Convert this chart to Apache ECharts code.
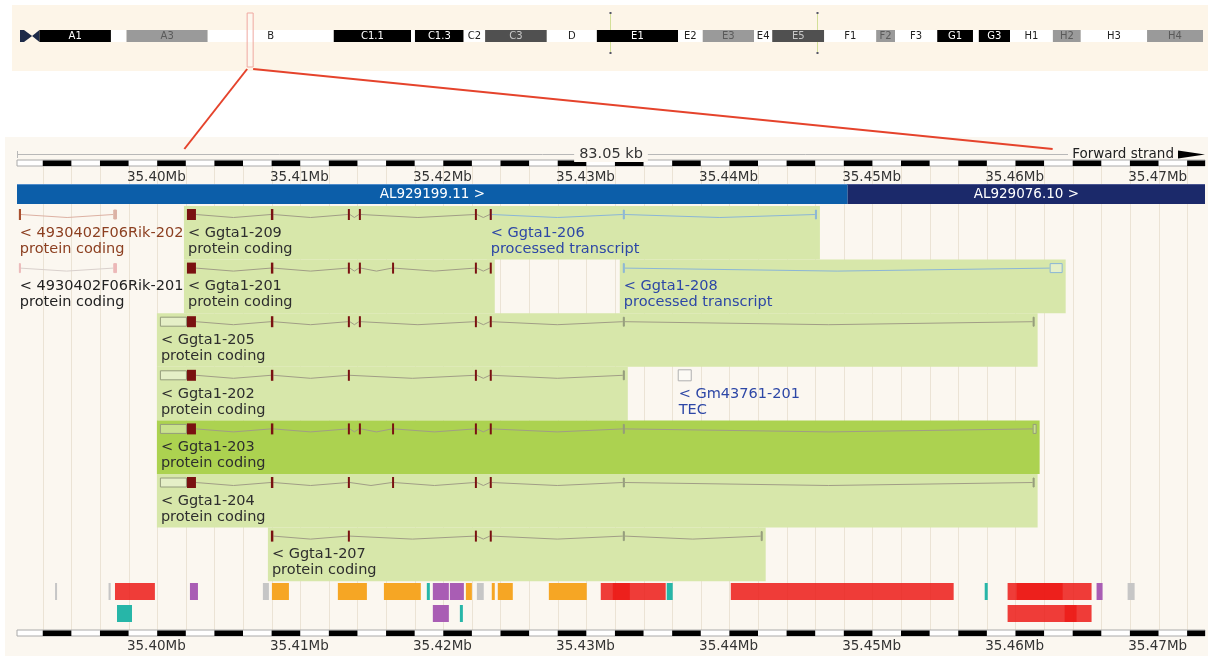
<!DOCTYPE html>
<html>
<head>
<meta charset="utf-8">
<title>Ggta1 region, chromosome 2</title>
<script src="https://cdn.jsdelivr.net/npm/echarts@6/dist/echarts.min.js"></script>
<style>
  html, body { margin: 0; padding: 0; background: #fff; }
  #chart { width: 1208px; height: 656px; }
</style>
</head>
<body>
<div id="chart"></div>
<script>
// ---- view window (kb on chr2) ----
const viewStart = 35388.2;
const viewEnd = 35471.25;
const tickValues = [35400, 35410, 35420, 35430, 35440, 35450, 35460, 35470];
const zoomTargets = [35399.9, 35460.6];

// ---- chromosome 2 ideogram (Mb) ----
const chrLength = 182.11;
const bandNames  = ['', 'A1', '', 'A3', 'B', 'C1.1', '', 'C1.3', 'C2', 'C3', 'D', 'E1', 'E2', 'E3', 'E4', 'E5', 'F1', 'F2', 'F3', 'G1', '', 'G3', 'H1', 'H2', 'H3', 'H4'];
const bandStarts = [0, 3.0, 14.0, 16.4, 28.9, 48.3, 60.2, 60.8, 68.3, 71.6, 81.1, 88.8, 101.3, 105.1, 113.0, 115.8, 123.8, 131.8, 134.7, 141.2, 146.7, 147.6, 152.4, 159.0, 163.3, 173.5];
const bandEnds   = [3.0, 14.0, 16.4, 28.9, 48.3, 60.2, 60.8, 68.3, 71.6, 81.1, 88.8, 101.3, 105.1, 113.0, 115.8, 123.8, 131.8, 134.7, 141.2, 146.7, 147.6, 152.4, 159.0, 163.3, 173.5, 182.11];
const bandStains = ['acen', 'gpos100', 'gneg', 'gpos50', 'gneg', 'gpos100', 'gneg', 'gpos100', 'gneg', 'gpos75', 'gneg', 'gpos100', 'gneg', 'gpos50', 'gneg', 'gpos75', 'gneg', 'gpos50', 'gneg', 'gpos100', 'gneg', 'gpos100', 'gneg', 'gpos50', 'gneg', 'gpos50'];
const ideogramMarks = [90.8, 122.7];

// ---- contigs (kb) ----
const contigNames  = ['AL929199.11', 'AL929076.10'];
const contigStarts = [35300, 35446.27];
const contigEnds   = [35446.27, 35560];

// ---- transcripts (kb), exons as [start, end, 'c' coding | 'n' non coding] ----
const transcriptNames = ['4930402F06Rik-202', 'Ggta1-206', 'Ggta1-209', '4930402F06Rik-201', 'Ggta1-201', 'Ggta1-208',
  'Ggta1-205', 'Ggta1-202', 'Gm43761-201', 'Ggta1-203', 'Ggta1-204', 'Ggta1-207'];
const transcriptBiotypes = ['protein coding', 'processed transcript', 'protein coding', 'protein coding', 'protein coding', 'processed transcript',
  'protein coding', 'protein coding', 'TEC', 'protein coding', 'protein coding', 'protein coding'];
const transcriptRows = [0, 0, 0, 1, 1, 1, 2, 3, 3, 4, 5, 6];
const transcriptExons = [
  [[35388.33, 35388.48, 'c'], [35394.93, 35395.19, 'n']],
  [[35421.25, 35421.39, 'n'], [35430.55, 35430.69, 'n'], [35443.98, 35444.12, 'n']],
  [[35400.08, 35400.71, 'c'], [35405.95, 35406.12, 'c'], [35411.33, 35411.47, 'c'], [35412.10, 35412.24, 'c'], [35420.21, 35420.35, 'c'], [35421.25, 35421.39, 'c']],
  [[35388.33, 35388.40, 'n'], [35394.93, 35395.19, 'n']],
  [[35400.08, 35400.71, 'c'], [35405.95, 35406.12, 'c'], [35411.33, 35411.47, 'c'], [35412.10, 35412.24, 'c'], [35414.42, 35414.55, 'c'], [35420.21, 35420.35, 'c'], [35421.25, 35421.39, 'c']],
  [[35430.55, 35430.69, 'n'], [35460.39, 35461.30, 'n']],
  [[35398.19, 35400.08, 'n'], [35400.08, 35400.71, 'c'], [35405.95, 35406.12, 'c'], [35411.33, 35411.47, 'c'], [35412.10, 35412.24, 'c'], [35420.21, 35420.35, 'c'], [35421.25, 35421.39, 'c'], [35430.55, 35430.69, 'n'], [35459.20, 35459.34, 'n']],
  [[35398.19, 35400.08, 'n'], [35400.08, 35400.71, 'c'], [35405.95, 35406.12, 'c'], [35411.33, 35411.47, 'c'], [35420.21, 35420.35, 'c'], [35421.25, 35421.39, 'c'], [35430.55, 35430.69, 'n']],
  [[35434.39, 35435.37, 'n']],
  [[35398.19, 35400.08, 'n'], [35400.08, 35400.71, 'c'], [35405.95, 35406.12, 'c'], [35411.33, 35411.47, 'c'], [35412.10, 35412.24, 'c'], [35414.42, 35414.55, 'c'], [35420.21, 35420.35, 'c'], [35421.25, 35421.39, 'c'], [35430.55, 35430.69, 'n'], [35459.20, 35459.48, 'n']],
  [[35398.19, 35400.08, 'n'], [35400.08, 35400.71, 'c'], [35405.95, 35406.12, 'c'], [35411.33, 35411.47, 'c'], [35414.42, 35414.55, 'c'], [35420.21, 35420.35, 'c'], [35421.25, 35421.39, 'c'], [35430.55, 35430.69, 'n'], [35459.20, 35459.34, 'n']],
  [[35405.95, 35406.12, 'c'], [35411.33, 35411.47, 'c'], [35420.21, 35420.35, 'c'], [35421.25, 35421.39, 'c'], [35430.55, 35430.69, 'n'], [35440.19, 35440.33, 'n']]
];
const focusTranscript = 'Ggta1-203';

// ---- regulatory build (kb) ----
const regStarts = [35390.86, 35394.60, 35395.05, 35400.29, 35405.39, 35406.02, 35410.63, 35413.85, 35416.85, 35417.27, 35418.46, 35419.58, 35420.35, 35421.39, 35421.81, 35425.38, 35429.01, 35429.85, 35433.62, 35438.10, 35455.85, 35457.45, 35458.08, 35463.67, 35465.84,
  35395.19, 35417.27, 35419.16, 35457.45, 35461.44];
const regEnds = [35391.00, 35394.75, 35397.84, 35400.85, 35405.81, 35407.21, 35412.66, 35416.43, 35417.06, 35418.39, 35419.44, 35420.00, 35420.83, 35421.60, 35422.86, 35428.03, 35433.55, 35431.04, 35434.04, 35453.68, 35456.06, 35463.32, 35461.30, 35464.09, 35466.33,
  35396.24, 35418.39, 35419.37, 35463.32, 35462.27];
const regTypes = ['open', 'open', 'promoter', 'tfbs', 'open', 'enhancer', 'enhancer', 'enhancer', 'ctcf', 'tfbs', 'tfbs', 'enhancer', 'open', 'enhancer', 'enhancer', 'enhancer', 'promoter', 'promoter', 'ctcf', 'promoter', 'ctcf', 'promoter', 'promoter', 'tfbs', 'open',
  'ctcf', 'tfbs', 'ctcf', 'promoter', 'promoter'];
const regRows = [0, 0, 0, 0, 0, 0, 0, 0, 0, 0, 0, 0, 0, 0, 0, 0, 0, 0, 0, 0, 0, 0, 0, 0, 0,
  1, 1, 1, 1, 1];

// ---- look ----
const FONT = "'DejaVu Sans', Verdana, sans-serif";
const PANEL_BG = '#fbf7f0';
const stainColours = { gpos100: '#000', gpos75: '#505050', gpos50: '#9a9a9a', gneg: '#fff', acen: '#1d2a48' };
const stainText = { gpos100: '#fff', gpos75: '#c8c8c8', gpos50: '#5a5a5a', gneg: '#222' };
const regColours = { promoter: 'rgba(236,27,23,0.85)', enhancer: '#f6a624', ctcf: '#27b6a8', tfbs: '#a95db4', open: '#c6c6c6' };
const trStyles = {
  coding:    { line: '#a19d86', utr: '#949c7c', exon: '#7a1111', label: '#2e2e2e' },
  processed: { line: '#8bb6d6', utr: '#8bb6d6', exon: '#8bb6d6', label: '#2d47a6' },
  rik202:    { line: '#ddb1a3', utr: '#dcb3a6', exon: '#a9502f', label: '#8c3f20' },
  rik201:    { line: '#d9d0cc', utr: '#ecb9b9', exon: '#ecb9b9', label: '#222' },
  tec:       { line: '#aaa', utr: '#b0b0b0', exon: '#b0b0b0', label: '#2d47a6' }
};
function styleOf(i) {
  const n = transcriptNames[i], b = transcriptBiotypes[i];
  if (n === '4930402F06Rik-202') return trStyles.rik202;
  if (n === '4930402F06Rik-201') return trStyles.rik201;
  if (b === 'TEC') return trStyles.tec;
  if (b === 'processed transcript') return trStyles.processed;
  return trStyles.coding;
}

// layout of main panel, offsets from grid top
const L = { kbLine: 17, scaleTop: 23, scaleH: 6, tickY: 40, contigTop: 47, contigH: 20,
  rowsTop: 69, rowH: 53.6, regTop: [446, 468], regH: 17, botScaleTop: 493, botTickY: 509, linesTop: 29 };
const rowTop = r => L.rowsTop + r * L.rowH;

const xOf = (api, v) => api.coord([v, 0])[0];

// 2 kb scaffolding for the scale bar and background lines
const gridStops = [];
for (let v = 35386; v <= 35472; v += 2) gridStops.push(v);

function renderGridLines(params, api) {
  const cs = params.coordSys;
  const x = Math.round(xOf(api, gridStops[params.dataIndex])) + 0.5;
  if (x < cs.x || x > cs.x + cs.width) return;
  return { type: 'line', silent: true,
    shape: { x1: x, y1: cs.y + L.linesTop, x2: x, y2: cs.y + L.botScaleTop },
    style: { stroke: '#ebe3d5', lineWidth: 1 } };
}

function renderScale(params, api) {
  const cs = params.coordSys;
  const top = cs.y + (params.dataIndex === 0 ? L.scaleTop : L.botScaleTop);
  const kids = [{ type: 'rect', shape: { x: cs.x, y: top, width: cs.width, height: L.scaleH },
    style: { fill: '#fff', stroke: '#aaa', lineWidth: 1 } }];
  for (let k = 0; k < gridStops.length - 1; k++) {
    const a = gridStops[k];
    if (((a - 35390) / 2) % 2 !== 0) continue;
    const xa = Math.max(xOf(api, a), cs.x), xb = Math.min(xOf(api, a + 2), cs.x + cs.width);
    if (xb <= xa) continue;
    kids.push({ type: 'rect', shape: { x: xa, y: top + 0.5, width: xb - xa, height: L.scaleH - 0.5 }, style: { fill: '#000' } });
  }
  return { type: 'group', children: kids };
}

function renderTicks(params, api) {
  const cs = params.coordSys;
  const v = tickValues[params.dataIndex];
  const x = xOf(api, v);
  const txt = (v / 1000).toFixed(2) + 'Mb';
  const mk = y => ({ type: 'text', x: x, y: cs.y + y,
    style: { text: txt, fill: '#333', font: '13.5px ' + FONT, align: 'right', verticalAlign: 'middle' } });
  return { type: 'group', children: [mk(L.tickY), mk(L.botTickY)] };
}

function renderContig(params, api) {
  const cs = params.coordSys;
  const i = params.dataIndex;
  const xa = Math.max(xOf(api, contigStarts[i]), cs.x);
  const xb = Math.min(xOf(api, contigEnds[i]), cs.x + cs.width);
  const y = cs.y + L.contigTop;
  return { type: 'group', children: [
    { type: 'rect', shape: { x: xa, y: y, width: xb - xa, height: L.contigH },
      style: { fill: i === 0 ? '#0c5ea9' : '#1b296a' } },
    { type: 'line', shape: { x1: xa, y1: y + 0.5, x2: xb, y2: y + 0.5 }, style: { stroke: i === 0 ? '#4f8ccb' : '#4a5590', lineWidth: 1 } },
    { type: 'text', x: (xa + xb) / 2, y: y + L.contigH / 2,
      style: { text: contigNames[i] + ' >', fill: '#fff', font: '13.5px ' + FONT, align: 'center', verticalAlign: 'middle' } }
  ] };
}

function trExtent(i) {
  const ex = transcriptExons[i];
  return [Math.min(...ex.map(e => e[0])), Math.max(...ex.map(e => e[1]))];
}

function renderHighlight(params, api) {
  const i = params.dataIndex;
  if (transcriptNames[i].indexOf('Ggta1') !== 0) return;
  const cs = params.coordSys;
  const ext = trExtent(i);
  const xa = xOf(api, ext[0]) - 3, xb = xOf(api, ext[1]) + 3;
  return { type: 'rect', shape: { x: xa, y: cs.y + rowTop(transcriptRows[i]), width: xb - xa, height: L.rowH },
    style: { fill: transcriptNames[i] === focusTranscript ? '#acd250' : '#d7e7aa' } };
}

function renderTranscript(params, api) {
  const i = params.dataIndex;
  const cs = params.coordSys;
  const st = styleOf(i);
  const yc = cs.y + rowTop(transcriptRows[i]) + 8.5;
  const ex = transcriptExons[i];
  const kids = [];
  for (let k = 1; k < ex.length; k++) {
    const xa = xOf(api, ex[k - 1][1]), xb = xOf(api, ex[k][0]);
    if (xb - xa < 2) continue;
    kids.push({ type: 'polyline', silent: true,
      shape: { points: [[xa, yc], [(xa + xb) / 2, yc + 3], [xb, yc]] },
      style: { stroke: st.line, lineWidth: 1, fill: null } });
  }
  ex.forEach(e => {
    const xa = xOf(api, e[0]), xb = xOf(api, e[1]);
    const w = Math.max(xb - xa, 2);
    if (e[2] === 'c') {
      kids.push({ type: 'rect', shape: { x: xa, y: yc - 5.5, width: w, height: 11 }, style: { fill: st.exon } });
    } else {
      const h = transcriptBiotypes[i] === 'TEC' ? 11 : 9;
      kids.push({ type: 'rect', shape: { x: xa + 0.5, y: yc - h / 2, width: Math.max(w - 1, 1), height: h },
        style: { fill: w > 4 ? 'rgba(255,255,255,0.35)' : st.utr, stroke: st.utr, lineWidth: 1 } });
    }
  });
  return { type: 'group', children: kids };
}

function renderLabels(params, api) {
  const i = params.dataIndex;
  const cs = params.coordSys;
  const st = styleOf(i);
  const x = xOf(api, trExtent(i)[0]) + 1;
  const top = cs.y + rowTop(transcriptRows[i]);
  const f = '14.5px ' + FONT;
  return { type: 'group', children: [
    { type: 'text', x: x, y: top + 27, style: { text: '< ' + transcriptNames[i], fill: st.label, font: f, verticalAlign: 'middle' } },
    { type: 'text', x: x, y: top + 43, style: { text: transcriptBiotypes[i], fill: st.label, font: f, verticalAlign: 'middle' } }
  ] };
}

function renderReg(params, api) {
  const i = params.dataIndex;
  const cs = params.coordSys;
  const xa = xOf(api, regStarts[i]), xb = xOf(api, regEnds[i]);
  return { type: 'rect', shape: { x: xa, y: cs.y + L.regTop[regRows[i]], width: Math.max(xb - xa, 2), height: L.regH },
    style: { fill: regColours[regTypes[i]] } };
}

// ---- ideogram ----
function renderBand(params, api) {
  const i = params.dataIndex;
  const cs = params.coordSys;
  const xa = xOf(api, bandStarts[i]), xb = xOf(api, bandEnds[i]);
  const y = cs.y, h = cs.height;
  if (bandStains[i] === 'acen') {
    const xm = xa + (xb - xa) * 0.62;
    return { type: 'group', children: [
      { type: 'polygon', shape: { points: [[xa, y], [xa + 4, y], [xm, y + h / 2], [xa + 4, y + h], [xa, y + h]] }, style: { fill: stainColours.acen } },
      { type: 'polygon', shape: { points: [[xb, y], [xm, y + h / 2], [xb, y + h]] }, style: { fill: stainColours.acen } }
    ] };
  }
  const kids = [{ type: 'rect', shape: { x: xa, y: y, width: xb - xa, height: h }, style: { fill: stainColours[bandStains[i]] } }];
  if (bandNames[i]) {
    kids.push({ type: 'text', x: (xa + xb) / 2, y: y + h / 2 + 0.5,
      style: { text: bandNames[i], fill: stainText[bandStains[i]], font: '10px ' + FONT, align: 'center', verticalAlign: 'middle' } });
  }
  return { type: 'group', children: kids };
}

function renderMark(params, api) {
  const cs = params.coordSys;
  const x = Math.round(xOf(api, ideogramMarks[params.dataIndex])) + 0.5;
  return { type: 'group', children: [
    { type: 'line', shape: { x1: x, y1: cs.y - 17, x2: x, y2: cs.y + 23 }, style: { stroke: '#d3df98', lineWidth: 1 } },
    { type: 'rect', shape: { x: x - 1, y: cs.y - 18, width: 2, height: 2 }, style: { fill: '#556' } },
    { type: 'rect', shape: { x: x - 1, y: cs.y + 22, width: 2, height: 2 }, style: { fill: '#556' } }
  ] };
}

function renderSelection(params, api) {
  const cs = params.coordSys;
  const xc = (xOf(api, viewStart / 1000) + xOf(api, viewEnd / 1000)) / 2;
  return { type: 'rect', shape: { x: xc - 3, y: cs.y - 17, width: 6, height: 54 },
    style: { fill: 'rgba(255,255,255,0.25)', stroke: '#efa8a0', lineWidth: 1 } };
}

const idx = arr => arr.map((_, i) => [i, 0]);

const option = {
  animation: false,
  backgroundColor: '#fff',
  grid: [
    { left: 20, top: 30, width: 1183, height: 12 },
    { left: 17, top: 137, width: 1188, height: 519 }
  ],
  xAxis: [
    { gridIndex: 0, type: 'value', min: 0, max: chrLength, show: false },
    { gridIndex: 1, type: 'value', min: viewStart, max: viewEnd, show: false }
  ],
  yAxis: [
    { gridIndex: 0, type: 'value', min: 0, max: 1, show: false },
    { gridIndex: 1, type: 'value', min: 0, max: 1, show: false }
  ],
  series: [
    { type: 'custom', name: 'bands', xAxisIndex: 0, yAxisIndex: 0, z: 3, renderItem: renderBand,
      data: bandStarts.map(v => [v, 0]) },
    { type: 'custom', name: 'marks', xAxisIndex: 0, yAxisIndex: 0, z: 2, renderItem: renderMark,
      data: ideogramMarks.map(v => [v, 0]) },
    { type: 'custom', name: 'selection', xAxisIndex: 0, yAxisIndex: 0, z: 4, renderItem: renderSelection,
      data: [[viewStart / 1000, 0]] },
    { type: 'custom', name: 'lines', xAxisIndex: 1, yAxisIndex: 1, z: 1, renderItem: renderGridLines,
      data: gridStops.map(v => [v, 0]) },
    { type: 'custom', name: 'scale', xAxisIndex: 1, yAxisIndex: 1, z: 2, renderItem: renderScale,
      data: [[viewStart, 0], [viewStart, 0]] },
    { type: 'custom', name: 'ticks', xAxisIndex: 1, yAxisIndex: 1, z: 2, renderItem: renderTicks,
      data: tickValues.map(v => [v, 0]) },
    { type: 'custom', name: 'contigs', xAxisIndex: 1, yAxisIndex: 1, z: 2, renderItem: renderContig,
      data: contigStarts.map(v => [v, 0]) },
    { type: 'custom', name: 'highlight', xAxisIndex: 1, yAxisIndex: 1, z: 2, renderItem: renderHighlight,
      data: idx(transcriptNames) },
    { type: 'custom', name: 'transcripts', xAxisIndex: 1, yAxisIndex: 1, z: 3, renderItem: renderTranscript,
      data: idx(transcriptNames) },
    { type: 'custom', name: 'labels', xAxisIndex: 1, yAxisIndex: 1, z: 4, renderItem: renderLabels,
      data: idx(transcriptNames) },
    { type: 'custom', name: 'regulation', xAxisIndex: 1, yAxisIndex: 1, z: 3, renderItem: renderReg,
      data: regStarts.map(v => [v, 0]) }
  ]
};

const chart = echarts.init(document.getElementById('chart'));
chart.setOption(option);

// decorations that need both coordinate systems
const px0 = v => chart.convertToPixel({ gridIndex: 0 }, [v, 0])[0];
const px1 = v => chart.convertToPixel({ gridIndex: 1 }, [v, 0])[0];
const selC = (px0(viewStart / 1000) + px0(viewEnd / 1000)) / 2;
const mainL = px1(viewStart), mainR = px1(viewEnd);
const kbY = 137 + L.kbLine + 0.5;

chart.setOption({
  graphic: [
    { type: 'rect', z: -10, silent: true, shape: { x: 12, y: 5, width: 1196, height: 66 }, style: { fill: '#fdf5e8' } },
    { type: 'rect', z: -10, silent: true, shape: { x: 5, y: 137, width: 1203, height: 519 }, style: { fill: PANEL_BG } },
    { type: 'line', z: 5, shape: { x1: mainL, y1: kbY, x2: 1068, y2: kbY }, style: { stroke: '#b8b8b8', lineWidth: 1 } },
    { type: 'line', z: 5, shape: { x1: mainL + 0.5, y1: kbY - 3.5, x2: mainL + 0.5, y2: kbY + 3.5 }, style: { stroke: '#b8b8b8', lineWidth: 1 } },
    { type: 'text', z: 6, x: (mainL + mainR) / 2, y: kbY,
      style: { text: (viewEnd - viewStart).toFixed(2) + ' kb', fill: '#333', font: '14.5px ' + FONT,
        align: 'center', verticalAlign: 'middle', backgroundColor: PANEL_BG, padding: [0, 5] } },
    { type: 'text', z: 6, x: 1174, y: kbY,
      style: { text: 'Forward strand', fill: '#222', font: '13.5px ' + FONT, align: 'right', verticalAlign: 'middle' } },
    { type: 'polygon', z: 6, shape: { points: [[1178, kbY - 4], [1205, kbY], [1178, kbY + 4]] }, style: { fill: '#000' } },
    { type: 'line', z: 20, shape: { x1: selC - 3, y1: 69, x2: px1(zoomTargets[0]), y2: 149 }, style: { stroke: '#e5432c', lineWidth: 2 } },
    { type: 'line', z: 20, shape: { x1: selC + 3, y1: 69, x2: px1(zoomTargets[1]), y2: 149 }, style: { stroke: '#e5432c', lineWidth: 2 } }
  ]
});
</script>
</body>
</html>
